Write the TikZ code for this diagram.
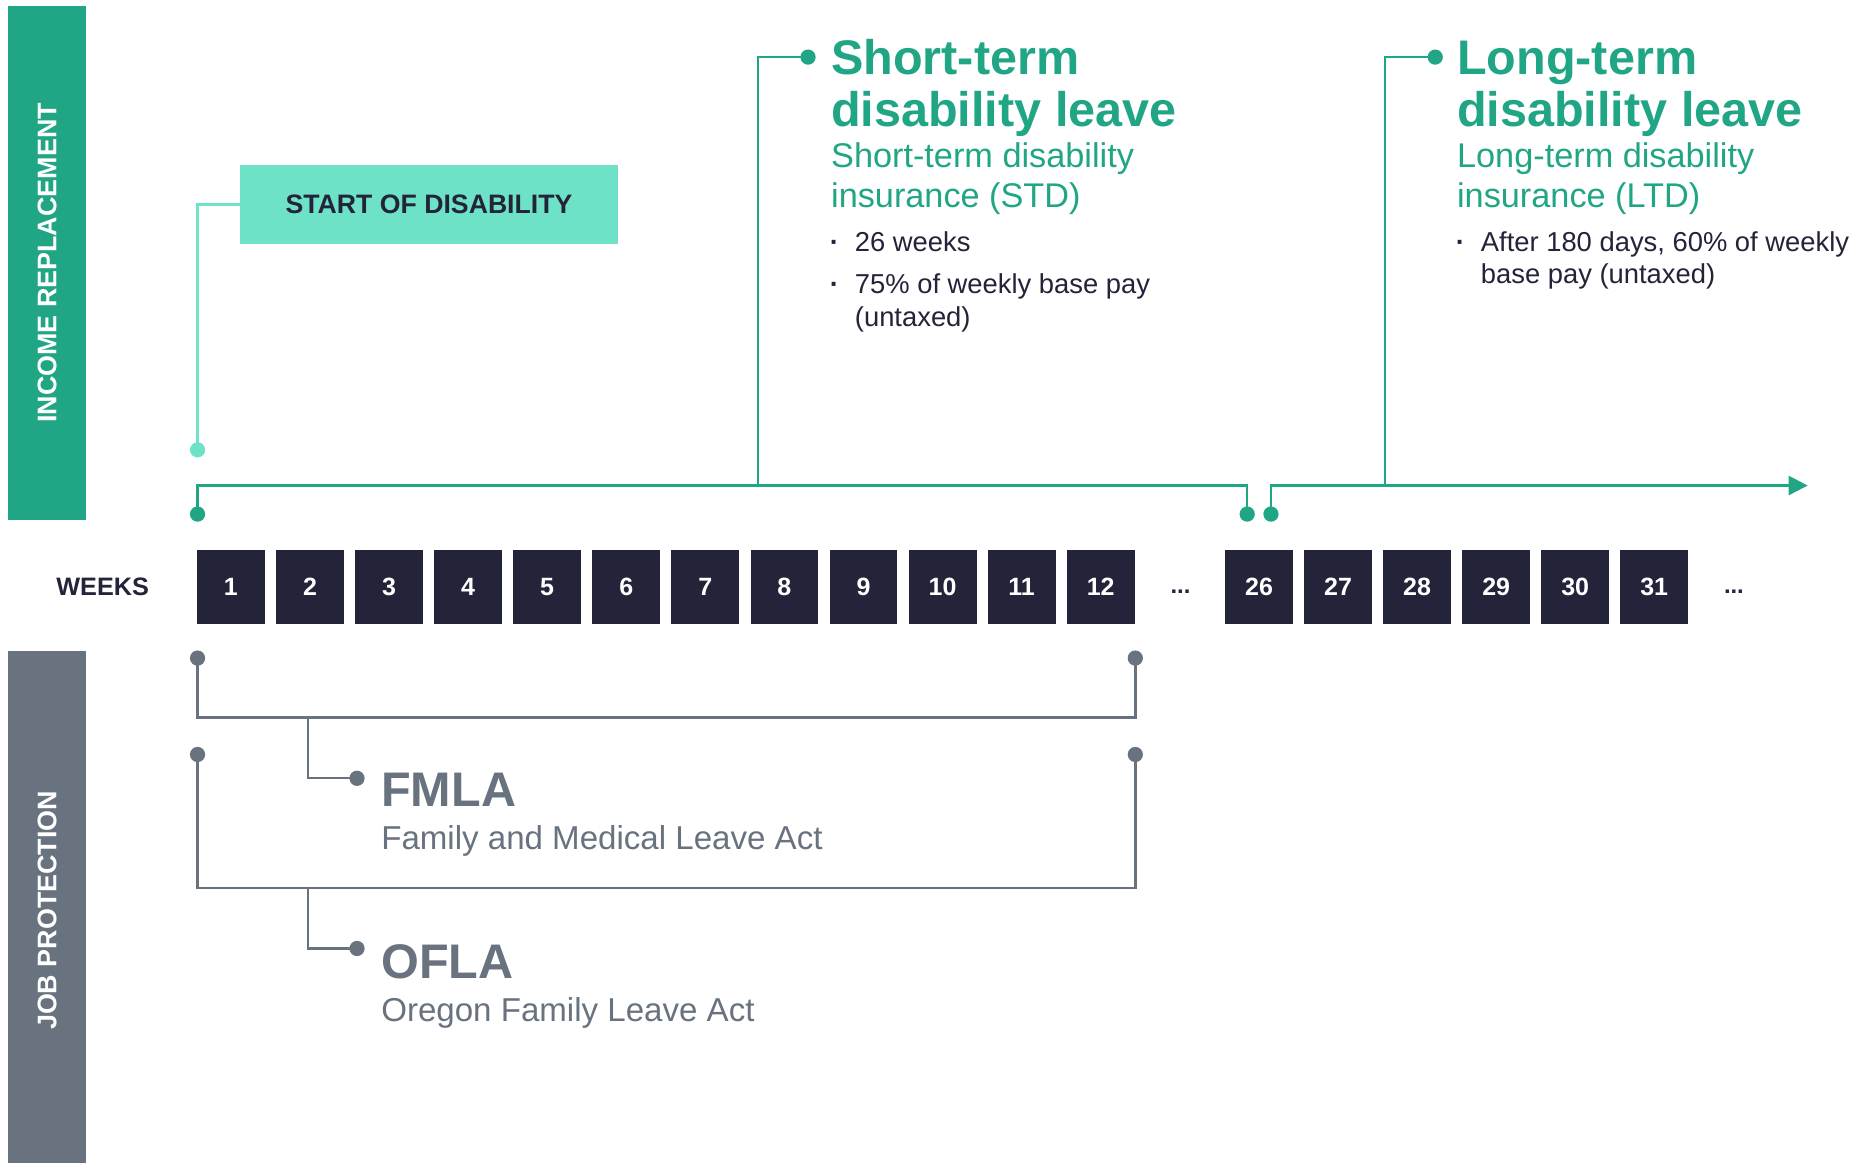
\documentclass[tikz,border=0pt]{standalone}
\usepackage{fontspec}
\setmainfont{Liberation Sans}
\usetikzlibrary{arrows.meta}
\definecolor{brandgreen}{HTML}{21A685}
\definecolor{mint}{HTML}{6EE2C6}
\definecolor{ink}{HTML}{23243A}
\definecolor{slate}{HTML}{68737F}
\begin{document}
\begin{tikzpicture}[x=0.5pt,y=-0.5pt,
  bandtext/.style={text=white,font=\fontsize{11.3}{13}\selectfont\bfseries,rotate=90,inner sep=0pt},
  startbox/.style={fill=mint,minimum width=158.5pt,minimum height=33pt,inner sep=0pt,
    text=ink,font=\fontsize{11.2}{13}\selectfont\bfseries},
  weekbox/.style={fill=ink,minimum width=28.5pt,minimum height=31pt,inner sep=0pt,
    text=white,font=\fontsize{10.5}{12}\selectfont\bfseries},
  gdot/.style={circle,fill=brandgreen,minimum size=6.4pt,inner sep=0pt},
  mdot/.style={circle,fill=mint,minimum size=6.4pt,inner sep=0pt},
  sdot/.style={circle,fill=slate,minimum size=6.4pt,inner sep=0pt},
  gline/.style={draw=brandgreen,line width=1pt},
  mline/.style={draw=mint,line width=1pt},
  sline/.style={draw=slate,line width=1pt},
  bigtitle/.style={anchor=base west,inner sep=0pt,font=\fontsize{20.4}{22}\selectfont\bfseries},
  subtitle/.style={anchor=base west,inner sep=0pt,font=\fontsize{14.4}{16}\selectfont},
  actname/.style={anchor=base west,inner sep=0pt,font=\fontsize{13.9}{16}\selectfont},
  bodytext/.style={anchor=base west,inner sep=0pt,text=ink,font=\fontsize{11.5}{13}\selectfont},
  bulletdot/.style={anchor=base west,inner sep=0pt,text=ink,font=\fontsize{11.5}{13}\selectfont\bfseries},
  ellip/.style={inner sep=0pt,text=ink,font=\fontsize{10}{12}\selectfont\bfseries}
]
\useasboundingbox (0,0) rectangle (1568,977);
\fill[white] (0,0) rectangle (1568,977);

% side bands
\fill[brandgreen] (7,5) rectangle (72,437);
\node[bandtext] (incomeLbl) at (39.5,221) {INCOME REPLACEMENT};
\fill[slate] (7,547) rectangle (72,977);
\node[bandtext] (jobLbl) at (39.5,765) {JOB PROTECTION};

% start of disability
\node[startbox] (start) at (360.5,172) {START OF DISABILITY};
\node[mdot] (startDot) at (166,378) {};
\draw[mline] (startDot.center) |- (start.west);

% week row
\node[anchor=base west,inner sep=0pt,text=ink,font=\fontsize{10.6}{12}\selectfont\bfseries] (weeks) at (47,500) {WEEKS};
\foreach \n [count=\i from 0] in {1,...,12} {
  \node[weekbox] (w\n) at ({194+\i*66.45},493) {\n};
}
\node[ellip] (gap1) at (992,497) {...};
\foreach \n [count=\i from 0] in {26,...,31} {
  \node[weekbox] (w\n) at ({1058+\i*66.4},493) {\n};
}
\node[ellip] (gap2) at (1457,497) {...};

% income replacement rail
\node[gdot] (railStart) at (166,432) {};
\node[gdot] (stdEnd) at (1048,432) {};
\node[gdot] (ltdStart) at (1068,432) {};
\coordinate (railL) at (166,408);
\coordinate (railR) at (1048,408);
\coordinate (ltdL) at (1068,408);
\coordinate (railEnd) at (1519,408);
\coordinate (stdFoot) at (637,408);
\coordinate (ltdFoot) at (1164,408);
\draw[gline] (railStart.center) -- (railL) -- (railR) -- (stdEnd.center);
\draw[gline,-{Triangle[length=8pt,width=8pt]}] (ltdStart.center) -- (ltdL) -- (railEnd);

% short-term disability
\node[gdot] (stdDot) at (679,48) {};
\draw[gline] (stdFoot) |- (stdDot.center);
\node[bigtitle,text=brandgreen] (stdT1) at (698,63) {Short-term};
\node[bigtitle,text=brandgreen] (stdT2) at (698,106) {disability leave};
\node[subtitle,text=brandgreen] (stdS1) at (698,141) {Short-term disability};
\node[subtitle,text=brandgreen] (stdS2) at (698,174) {insurance (STD)};
\node[bulletdot] (stdB1d) at (697,211) {·};
\node[bodytext] (stdB1) at (718,211) {26 weeks};
\node[bulletdot] (stdB2d) at (697,247) {·};
\node[bodytext] (stdB2) at (718,247) {75\% of weekly base pay};
\node[bodytext] (stdB3) at (718,274) {(untaxed)};

% long-term disability
\node[gdot] (ltdDot) at (1206,48) {};
\draw[gline] (ltdFoot) |- (ltdDot.center);
\node[bigtitle,text=brandgreen] (ltdT1) at (1224,63) {Long-term};
\node[bigtitle,text=brandgreen] (ltdT2) at (1224,106) {disability leave};
\node[subtitle,text=brandgreen] (ltdS1) at (1224,141) {Long-term disability};
\node[subtitle,text=brandgreen] (ltdS2) at (1224,174) {insurance (LTD)};
\node[bulletdot] (ltdB1d) at (1223,211) {·};
\node[bodytext] (ltdB1) at (1244,211) {After 180 days, 60\% of weekly};
\node[bodytext] (ltdB2) at (1244,238) {base pay (untaxed)};

% FMLA bracket
\node[sdot] (fmL) at (166,553) {};
\node[sdot] (fmR) at (954,553) {};
\coordinate (fmBL) at (166,603);
\coordinate (fmBR) at (954,603);
\coordinate (fmFoot) at (259,603);
\draw[sline] (fmL.center) -- (fmBL) -- (fmBR) -- (fmR.center);
\node[sdot] (fmDot) at (300,654) {};
\draw[sline] (fmFoot) |- (fmDot.center);
\node[bigtitle,text=slate] (fmla) at (320,678) {FMLA};
\node[actname,text=slate] (fmlaSub) at (320,714) {Family and Medical Leave Act};

% OFLA bracket
\node[sdot] (ofL) at (166,634) {};
\node[sdot] (ofR) at (954,634) {};
\coordinate (ofBL) at (166,746);
\coordinate (ofBR) at (954,746);
\coordinate (ofFoot) at (259,746);
\draw[sline] (ofL.center) -- (ofBL) -- (ofBR) -- (ofR.center);
\node[sdot] (ofDot) at (300,797) {};
\draw[sline] (ofFoot) |- (ofDot.center);
\node[bigtitle,text=slate] (ofla) at (320,822) {OFLA};
\node[actname,text=slate] (oflaSub) at (320,858) {Oregon Family Leave Act};
\end{tikzpicture}
\end{document}
